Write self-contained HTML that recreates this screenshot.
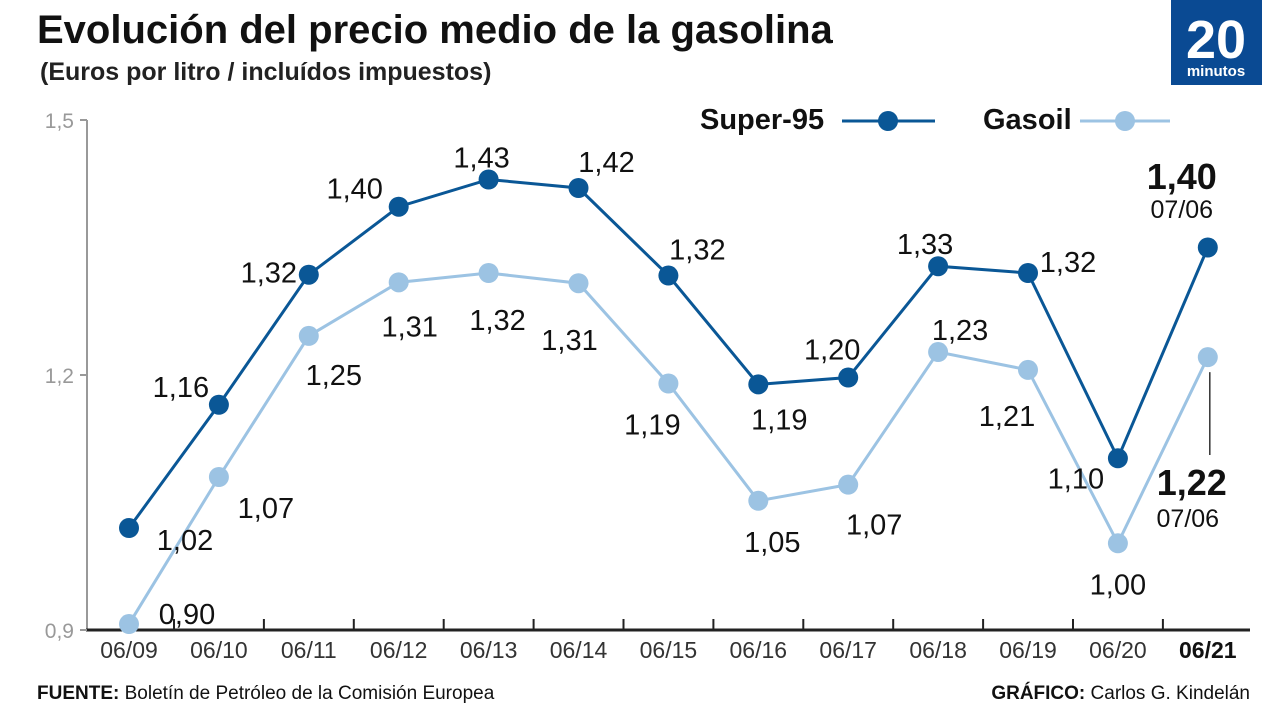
<!DOCTYPE html>
<html><head><meta charset="utf-8"><style>
body{margin:0;width:1280px;height:720px;background:#fff;overflow:hidden;}
svg text{font-family:"Liberation Sans Narrow","Liberation Sans",sans-serif;}
</style></head><body>
<svg width="1280" height="720" id="chart">
<text x="37" y="43" font-size="40" font-weight="bold" fill="#111">Evolución del precio medio de la gasolina</text>
<text x="40" y="80" font-size="25" font-weight="bold" fill="#222">(Euros por litro / incluídos impuestos)</text>
<g>
<rect x="1171" y="0" width="91" height="85" fill="#0a4a93"/>
<text x="1216" y="58" font-size="54" font-weight="bold" fill="#fff" text-anchor="middle">20</text>
<text x="1216" y="76" font-size="15" font-weight="bold" fill="#fff" text-anchor="middle">minutos</text>
</g>
<g>
<text x="700" y="129" font-size="29" font-weight="bold" fill="#111">Super-95</text>
<line x1="842" y1="121" x2="935" y2="121" stroke="#0a5796" stroke-width="3"/>
<circle cx="888" cy="121" r="10" fill="#0a5796"/>
<text x="983" y="129" font-size="29" font-weight="bold" fill="#111">Gasoil</text>
<line x1="1080" y1="121" x2="1170" y2="121" stroke="#9cc3e3" stroke-width="3"/>
<circle cx="1125" cy="121" r="10" fill="#9cc3e3"/>
</g>
<g id="plot"></g>
<text x="37" y="699" font-size="19" fill="#111"><tspan font-weight="bold">FUENTE:</tspan> Boletín de Petróleo de la Comisión Europea</text>
<text x="1250" y="699" font-size="19" fill="#111" text-anchor="end"><tspan font-weight="bold">GRÁFICO:</tspan> Carlos G. Kindelán</text>
</svg>
<script>
const categories=["06/09","06/10","06/11","06/12","06/13","06/14","06/15","06/16","06/17","06/18","06/19","06/20","06/21"];
const superVals=[1.02,1.165,1.318,1.398,1.43,1.42,1.317,1.189,1.197,1.328,1.32,1.102,1.35];
const superLabels=["1,02","1,16","1,32","1,40","1,43","1,42","1,32","1,19","1,20","1,33","1,32","1,10","1,40"];
const gasoilVals=[0.907,1.08,1.246,1.309,1.32,1.308,1.19,1.052,1.071,1.227,1.206,1.002,1.221];
const gasoilLabels=["0,90","1,07","1,25","1,31","1,32","1,31","1,19","1,05","1,07","1,23","1,21","1,00","1,22"];
const yTicks=[0.9,1.2,1.5];
const yTickLabels=["0,9","1,2","1,5"];
// label offsets relative to point (layout, not data)
const superOff=[[56,12],[-38,-18],[-40,-2],[-44,-18],[-7,-22],[28,-26],[29,-26],[21,35],[-16,-28],[-13,-22],[40,-11],[-42,20],[-26,-62]];
const gasOff=[[58,-10],[47,31],[25,39],[11,44],[9,47],[-9,57],[-16,41],[14,41],[26,40],[22,-22],[-21,46],[0,41],[0,0]];
const NS="http://www.w3.org/2000/svg";
const plot=document.getElementById('plot');
const X=i=>129+i*89.9;
const Y=v=>630-(v-0.9)*850;
function mk(tag,attrs,parent){const e=document.createElementNS(NS,tag);for(const k in attrs)e.setAttribute(k,attrs[k]);(parent||plot).appendChild(e);return e;}
// axes
let ax=mk('line',{x1:87,y1:Y(1.5),x2:87,y2:631,stroke:'#999','stroke-width':2});


let bx=mk('line',{x1:86,y1:630,x2:1250,y2:630,stroke:'#222','stroke-width':3});


yTicks.forEach((v,i)=>{
  mk('line',{x1:80,y1:Y(v),x2:87,y2:Y(v),stroke:'#999','stroke-width':2});
  const t=mk('text',{x:74,y:Y(v)+8,'font-size':21,fill:'#999','text-anchor':'end'});
  t.textContent=yTickLabels[i];
  
  
});
categories.forEach((c,i)=>{
  if(i<categories.length-1) mk('line',{x1:X(i)+45,y1:619,x2:X(i)+45,y2:630,stroke:'#222','stroke-width':2});
  const last=i===categories.length-1;
  const t=mk('text',{x:X(i),y:658,'font-size':23,fill:last?'#111':'#333','text-anchor':'middle','font-weight':last?'bold':'normal'});
  t.textContent=c;
  
  
});
function series(vals,labels,off,color,name){
  const p=mk('polyline',{points:vals.map((v,i)=>X(i)+','+Y(v)).join(' '),fill:'none',stroke:color,'stroke-width':3});
  
  
  vals.forEach((v,i)=>{
    const c=mk('circle',{cx:X(i),cy:Y(v),r:10,fill:color});
    
    
    if(i===vals.length-1) return;
    const t=mk('text',{x:X(i)+off[i][0],y:Y(v)+off[i][1]+10,'font-size':29,fill:'#111','text-anchor':'middle'});
    t.textContent=labels[i];
    
    
  });
}
series(gasoilVals,gasoilLabels,gasOff,'#9cc3e3','gasoil');
series(superVals,superLabels,superOff,'#0a5796','super95');
// final annotations
const n=categories.length-1;
let t=mk('text',{x:X(n)-26,y:189,'font-size':36,'font-weight':'bold',fill:'#111','text-anchor':'middle'});
t.textContent=superLabels[n];


t=mk('text',{x:X(n)-26,y:218,'font-size':25,fill:'#111','text-anchor':'middle'});
t.textContent="07/06";


mk('line',{x1:X(n)+2,y1:Y(gasoilVals[n])+15,x2:X(n)+2,y2:455,stroke:'#333','stroke-width':1.5});
t=mk('text',{x:X(n)-16,y:495,'font-size':36,'font-weight':'bold',fill:'#111','text-anchor':'middle'});
t.textContent=gasoilLabels[n];


t=mk('text',{x:X(n)-20,y:527,'font-size':25,fill:'#111','text-anchor':'middle'});
t.textContent="07/06";


</script>
</body></html>
